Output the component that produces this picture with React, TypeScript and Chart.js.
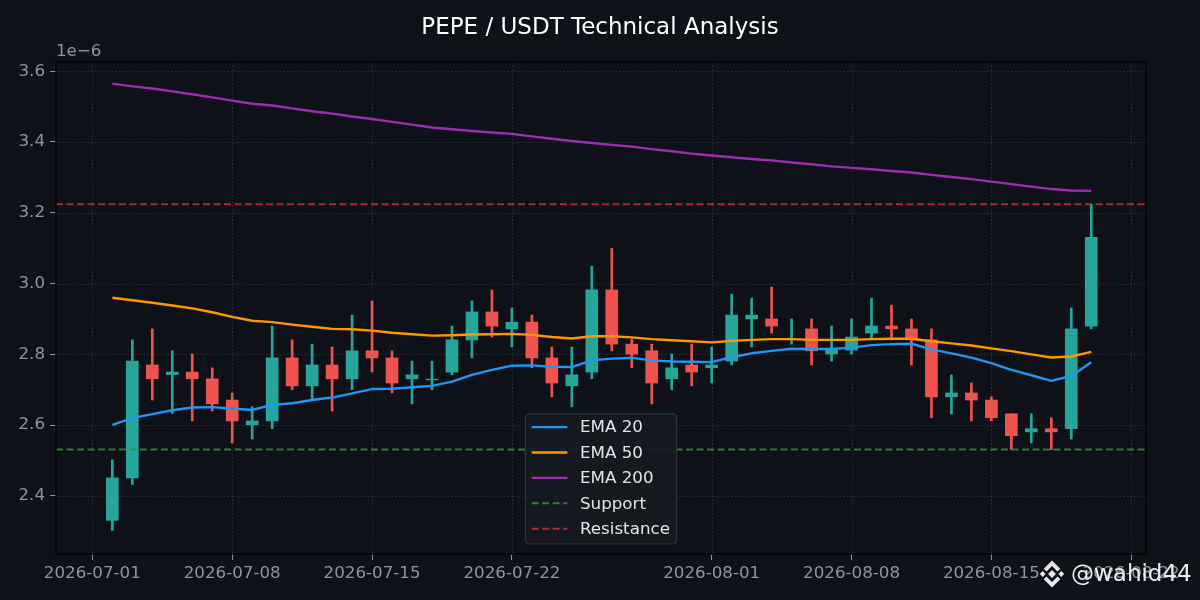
import React, { useEffect, useRef } from "react";
import { Chart, registerables } from "chart.js";

Chart.register(...registerables);

// ---- Data (prices in units of 1e-6 USDT) ----
const DATES = [
  "2026-07-02", "2026-07-03", "2026-07-04", "2026-07-05", "2026-07-06", "2026-07-07", "2026-07-08",
  "2026-07-09", "2026-07-10", "2026-07-11", "2026-07-12", "2026-07-13", "2026-07-14", "2026-07-15",
  "2026-07-16", "2026-07-17", "2026-07-18", "2026-07-19", "2026-07-20", "2026-07-21", "2026-07-22",
  "2026-07-23", "2026-07-24", "2026-07-25", "2026-07-26", "2026-07-27", "2026-07-28", "2026-07-29",
  "2026-07-30", "2026-07-31", "2026-08-01", "2026-08-02", "2026-08-03", "2026-08-04", "2026-08-05",
  "2026-08-06", "2026-08-07", "2026-08-08", "2026-08-09", "2026-08-10", "2026-08-11", "2026-08-12",
  "2026-08-13", "2026-08-14", "2026-08-15", "2026-08-16", "2026-08-17", "2026-08-18", "2026-08-19",
  "2026-08-20",
];

const OPEN = [
  2.331, 2.451, 2.770, 2.743, 2.750, 2.731, 2.671, 2.601, 2.612, 2.790,
  2.711, 2.770, 2.731, 2.810, 2.790, 2.731, 2.728, 2.750, 2.841, 2.920,
  2.872, 2.891, 2.790, 2.711, 2.750, 2.982, 2.829, 2.810, 2.731, 2.770,
  2.762, 2.781, 2.900, 2.900, 2.842, 2.872, 2.801, 2.812, 2.860, 2.880,
  2.872, 2.841, 2.680, 2.691, 2.671, 2.632, 2.581, 2.590, 2.590, 2.880,
];
const HIGH = [
  2.502, 2.841, 2.872, 2.810, 2.801, 2.762, 2.691, 2.652, 2.880, 2.841,
  2.829, 2.821, 2.911, 2.951, 2.810, 2.781, 2.781, 2.880, 2.951, 2.982,
  2.931, 2.911, 2.821, 2.821, 3.049, 3.100, 2.843, 2.829, 2.801, 2.829,
  2.821, 2.970, 2.959, 2.990, 2.900, 2.900, 2.880, 2.900, 2.959, 2.939,
  2.900, 2.872, 2.742, 2.719, 2.680, 2.632, 2.632, 2.621, 2.931, 3.224,
];
const LOW = [
  2.303, 2.432, 2.671, 2.633, 2.612, 2.640, 2.550, 2.561, 2.590, 2.700,
  2.674, 2.640, 2.700, 2.750, 2.691, 2.660, 2.700, 2.742, 2.790, 2.849,
  2.821, 2.762, 2.680, 2.652, 2.731, 2.810, 2.762, 2.660, 2.700, 2.711,
  2.719, 2.770, 2.821, 2.860, 2.829, 2.770, 2.781, 2.801, 2.845, 2.841,
  2.770, 2.621, 2.632, 2.612, 2.612, 2.531, 2.550, 2.531, 2.561, 2.872,
];
const CLOSE = [
  2.451, 2.781, 2.731, 2.750, 2.731, 2.660, 2.612, 2.612, 2.790, 2.711,
  2.770, 2.731, 2.810, 2.790, 2.719, 2.742, 2.730, 2.841, 2.920, 2.880,
  2.891, 2.790, 2.719, 2.742, 2.982, 2.829, 2.801, 2.719, 2.762, 2.750,
  2.770, 2.911, 2.911, 2.880, 2.843, 2.810, 2.812, 2.849, 2.880, 2.872,
  2.841, 2.680, 2.691, 2.671, 2.621, 2.570, 2.590, 2.581, 2.872, 3.131,
];

const EMA20 = [
  2.601, 2.620, 2.631, 2.642, 2.650, 2.651, 2.647, 2.643, 2.657, 2.662,
  2.671, 2.678, 2.690, 2.702, 2.703, 2.707, 2.711, 2.723, 2.742, 2.756,
  2.768, 2.769, 2.765, 2.764, 2.783, 2.788, 2.790, 2.783, 2.780, 2.779,
  2.778, 2.792, 2.803, 2.810, 2.816, 2.815, 2.815, 2.819, 2.826, 2.829,
  2.830, 2.814, 2.803, 2.791, 2.775, 2.756, 2.741, 2.725, 2.739, 2.778,
];
const EMA50 = [
  2.960, 2.953, 2.946, 2.938, 2.930, 2.919, 2.906, 2.895, 2.891, 2.884,
  2.878, 2.872, 2.871, 2.867, 2.861, 2.857, 2.853, 2.854, 2.856, 2.857,
  2.858, 2.855, 2.849, 2.845, 2.851, 2.851, 2.848, 2.843, 2.840, 2.837,
  2.834, 2.838, 2.841, 2.843, 2.843, 2.841, 2.841, 2.841, 2.843, 2.844,
  2.844, 2.837, 2.831, 2.825, 2.817, 2.809, 2.800, 2.791, 2.794, 2.807,
];
const EMA200 = [
  3.565, 3.557, 3.551, 3.543, 3.535, 3.526, 3.517, 3.508, 3.503, 3.495,
  3.487, 3.480, 3.472, 3.465, 3.457, 3.449, 3.441, 3.436, 3.431, 3.427,
  3.423, 3.416, 3.409, 3.403, 3.397, 3.392, 3.387, 3.380, 3.374, 3.367,
  3.362, 3.357, 3.352, 3.348, 3.342, 3.337, 3.331, 3.327, 3.323, 3.318,
  3.314, 3.307, 3.301, 3.295, 3.288, 3.281, 3.274, 3.267, 3.263, 3.262,
];

const SUPPORT = 2.531;
const RESISTANCE = 3.224;

const X_TICK_LABELS = [
  "2026-07-01", "2026-07-08", "2026-07-15", "2026-07-22",
  "2026-08-01", "2026-08-08", "2026-08-15", "2026-08-22",
];
const Y_TICKS = [2.4, 2.6, 2.8, 3.0, 3.2, 3.4, 3.6];
const Y_OFFSET_LABEL = "1e\u22126";
const TITLE = "PEPE / USDT Technical Analysis";
const WATERMARK = "@wahid44";

// axis limits (days since 2026-07-01 / price in 1e-6)
const X_MIN = -1.82;
const X_MAX = 52.74;
const Y_MIN = 2.236;
const Y_MAX = 3.626;

// ---- Styles ----
const BG = "#0e1117";
const UP = "#26a69a";
const DOWN = "#ef5350";
const TICK_COLOR = "#8f949c";
const GRID_COLOR = "rgba(125,130,140,0.32)";
const FONT = "'DejaVu Sans', sans-serif";

const BASE = Date.UTC(2026, 6, 1);
const dayOf = (s: string) => {
  const [y, m, d] = s.split("-").map(Number);
  return (Date.UTC(y, m - 1, d) - BASE) / 864e5;
};

function drawBinance(ctx: CanvasRenderingContext2D, cx: number, cy: number, color: string) {
  ctx.save();
  ctx.fillStyle = color;
  const dia = (x: number, y: number, r: number) => {
    ctx.beginPath();
    ctx.moveTo(x, y - r);
    ctx.lineTo(x + r, y);
    ctx.lineTo(x, y + r);
    ctx.lineTo(x - r, y);
    ctx.closePath();
    ctx.fill();
  };
  dia(cx, cy, 4);
  dia(cx - 9.3, cy, 2.9);
  dia(cx + 9.3, cy, 2.9);
  for (const s of [-1, 1]) {
    ctx.beginPath();
    ctx.moveTo(cx, cy + s * 13.5);
    ctx.lineTo(cx + 8.3, cy + s * 5.2);
    ctx.lineTo(cx + 5.5, cy + s * 2.4);
    ctx.lineTo(cx, cy + s * 7.9);
    ctx.lineTo(cx - 5.5, cy + s * 2.4);
    ctx.lineTo(cx - 8.3, cy + s * 5.2);
    ctx.closePath();
    ctx.fill();
  }
  ctx.restore();
}

export default function App() {
  const ref = useRef<HTMLCanvasElement | null>(null);

  useEffect(() => {
    if (!ref.current) return;
    document.body.style.margin = "0";
    document.body.style.background = BG;

    const xs = DATES.map(dayOf);
    const candleColors = OPEN.map((o, i) => (CLOSE[i] >= o ? UP : DOWN));
    const xTickDays = X_TICK_LABELS.map(dayOf);

    const lineDs = (label: string, vals: number[], color: string, order: number) => ({
      type: "line" as const,
      label,
      data: xs.map((x, i) => ({ x, y: vals[i] })),
      borderColor: color,
      backgroundColor: color,
      borderWidth: 2.4,
      pointRadius: 0,
      tension: 0,
      fill: false,
      borderJoinStyle: "round" as const,
      order,
      legend: true,
    });
    const levelDs = (label: string, val: number, color: string, order: number) => ({
      type: "line" as const,
      label,
      data: [
        { x: X_MIN, y: val },
        { x: X_MAX, y: val },
      ],
      borderColor: color,
      backgroundColor: color,
      borderWidth: 2,
      borderDash: [7, 3.5],
      pointRadius: 0,
      fill: false,
      order,
      legend: true,
    });

    const datasets: any[] = [
      lineDs("EMA 20", EMA20, "#2196f3", 2),
      lineDs("EMA 50", EMA50, "#ff9800", 1),
      lineDs("EMA 200", EMA200, "#a02cb4", 0),
      levelDs("Support", SUPPORT, "rgba(56,142,60,0.85)", 3),
      levelDs("Resistance", RESISTANCE, "rgba(200,50,50,0.8)", 3),
      {
        type: "bar",
        label: "bodies",
        data: xs.map((x, i) => ({ x, y: [OPEN[i], CLOSE[i]] })),
        backgroundColor: candleColors,
        barThickness: 12,
        grouped: false,
        order: 4,
      },
      {
        type: "bar",
        label: "wicks",
        data: xs.map((x, i) => ({ x, y: [LOW[i], HIGH[i]] })),
        backgroundColor: candleColors,
        barThickness: 2,
        grouped: false,
        order: 5,
      },
    ];

    const decor = {
      id: "decor",
      beforeDraw(chart: any) {
        const { ctx, width, height } = chart;
        ctx.save();
        ctx.fillStyle = BG;
        ctx.fillRect(0, 0, width, height);
        ctx.restore();
      },
      afterDatasetDraw(chart: any, args: any) {
        if (chart.data.datasets[args.index].label !== "bodies") return;
        const { ctx, chartArea: a, scales } = chart;
        ctx.save();
        ctx.strokeStyle = GRID_COLOR;
        ctx.lineWidth = 1;
        ctx.setLineDash([1.3, 2.2]);
        for (const d of xTickDays) {
          const px = Math.round(scales.x.getPixelForValue(d)) + 0.5;
          if (px < a.left || px > a.right) continue;
          ctx.beginPath();
          ctx.moveTo(px, a.top);
          ctx.lineTo(px, a.bottom);
          ctx.stroke();
        }
        for (const v of Y_TICKS) {
          const py = Math.round(scales.y.getPixelForValue(v)) + 0.5;
          ctx.beginPath();
          ctx.moveTo(a.left, py);
          ctx.lineTo(a.right, py);
          ctx.stroke();
        }
        ctx.restore();
      },
      afterDraw(chart: any) {
        const { ctx, chartArea: a } = chart;
        ctx.save();
        // frame
        ctx.strokeStyle = "#000000";
        ctx.lineWidth = 1.3;
        ctx.strokeRect(a.left, a.top, a.right - a.left, a.bottom - a.top);

        // title
        ctx.fillStyle = "#ffffff";
        ctx.font = `23px ${FONT}`;
        ctx.textAlign = "center";
        ctx.textBaseline = "middle";
        ctx.fillText(TITLE, 600, 28);

        // offset label
        ctx.fillStyle = TICK_COLOR;
        ctx.font = `16.7px ${FONT}`;
        ctx.textAlign = "left";
        ctx.textBaseline = "alphabetic";
        ctx.fillText(Y_OFFSET_LABEL, a.left, a.top - 6);

        // legend
        const items = chart.data.datasets.filter((d: any) => d.legend);
        ctx.font = `16.7px ${FONT}`;
        const textW = Math.max(...items.map((d: any) => ctx.measureText(d.label).width));
        const padL = 6.3, handle = 35.7, gap = 12.6, padR = 6.7;
        const boxW = padL + handle + gap + textW + padR;
        const rowH = 25.4;
        const boxH = 13.3 + rowH * (items.length - 1) + 15.3;
        const bx = (a.left + a.right) / 2 - boxW / 2;
        const by = a.bottom - 10 - boxH;
        ctx.beginPath();
        (ctx as any).roundRect(bx, by, boxW, boxH, 4);
        ctx.fillStyle = "rgba(22,26,33,0.92)";
        ctx.fill();
        ctx.strokeStyle = "#2e323a";
        ctx.lineWidth = 1.2;
        ctx.stroke();
        items.forEach((d: any, i: number) => {
          const y = by + 13.3 + i * rowH;
          ctx.strokeStyle = d.borderColor;
          ctx.lineWidth = d.borderWidth;
          ctx.setLineDash(d.borderDash || []);
          ctx.beginPath();
          ctx.moveTo(bx + padL, y);
          ctx.lineTo(bx + padL + handle, y);
          ctx.stroke();
          ctx.setLineDash([]);
          ctx.fillStyle = "#e2e4e8";
          ctx.textAlign = "left";
          ctx.textBaseline = "middle";
          ctx.fillText(d.label, bx + padL + handle + gap, y + 1);
        });

        // watermark
        drawBinance(ctx, 1052, 574, "#e6e6e6");
        ctx.fillStyle = "#ececec";
        ctx.font = `23px ${FONT}`;
        ctx.textAlign = "left";
        ctx.textBaseline = "middle";
        ctx.fillText(WATERMARK, 1071, 575);
        ctx.restore();
      },
    };

    const chart = new Chart(ref.current, {
      type: "line",
      data: { datasets },
      plugins: [decor],
      options: {
        responsive: false,
        animation: false,
        events: [],
        layout: { padding: { left: 0, top: 62, right: 54, bottom: 0 } },
        plugins: {
          legend: { display: false },
          title: { display: false },
          tooltip: { enabled: false },
        },
        scales: {
          x: {
            type: "linear",
            min: X_MIN,
            max: X_MAX,
            offset: false,
            afterBuildTicks: (s: any) => {
              s.ticks = xTickDays.map((v) => ({ value: v }));
            },
            afterFit: (s: any) => {
              s.height = 46;
            },
            ticks: {
              autoSkip: false,
              maxRotation: 0,
              minRotation: 0,
              color: TICK_COLOR,
              padding: 4,
              font: { family: FONT, size: 16.7 },
              callback: (_v: any, i: number) => X_TICK_LABELS[i],
            },
            grid: {
              display: true,
              drawOnChartArea: false,
              drawTicks: true,
              tickLength: 6,
              tickColor: TICK_COLOR,
              offset: false,
            },
            border: { display: false },
          },
          y: {
            type: "linear",
            min: Y_MIN,
            max: Y_MAX,
            afterBuildTicks: (s: any) => {
              s.ticks = Y_TICKS.map((v) => ({ value: v }));
            },
            afterFit: (s: any) => {
              s.width = 56;
            },
            ticks: {
              color: TICK_COLOR,
              padding: 5,
              font: { family: FONT, size: 16.7 },
              callback: (v: any) => Number(v).toFixed(1),
            },
            grid: {
              display: true,
              drawOnChartArea: false,
              drawTicks: true,
              tickLength: 6,
              tickColor: TICK_COLOR,
            },
            border: { display: false },
          },
        },
      } as any,
    });

    return () => chart.destroy();
  }, []);

  return (
    <div style={{ position: "absolute", left: 0, top: 0, width: 1200, height: 600, background: BG }}>
      <canvas ref={ref} width={1200} height={600} style={{ display: "block" }} />
    </div>
  );
}
